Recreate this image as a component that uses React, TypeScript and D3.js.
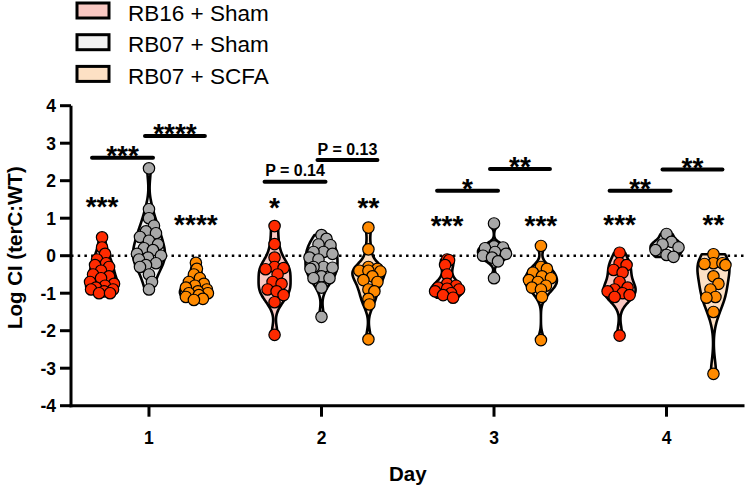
import React from "react";
import * as d3 from "d3";

// ---------- data ----------
const days = [1, 2, 3, 4];
const groupNames = ["RB16 + Sham", "RB07 + Sham", "RB07 + SCFA"];
const yTicks = [-4, -3, -2, -1, 0, 1, 2, 3, 4];

const rb16Sham = [
  [0.49, 0.22, 0.05, -0.1, -0.2, -0.25, -0.3, -0.4, -0.5, -0.55, -0.6, -0.7, -0.75, -0.8, -0.85, -0.9, -0.9, -0.95, -1.0, -1.0],
  [0.79, 0.31, -0.05, -0.3, -0.33, -0.36, -0.5, -0.7, -0.75, -0.9, -0.95, -1.05, -1.24, -2.11],
  [-0.1, -0.12, -0.25, -0.5, -0.75, -0.8, -0.85, -0.88, -0.9, -0.95, -1.0, -1.05, -1.12],
  [0.08, -0.2, -0.25, -0.38, -0.45, -0.7, -0.85, -0.9, -0.95, -1.0, -1.05, -1.1, -2.13],
];
const rb07Sham = [
  [2.33, 1.24, 1.0, 0.8, 0.65, 0.6, 0.5, 0.4, 0.3, 0.2, 0.15, 0.05, 0.0, -0.05, -0.1, -0.2, -0.25, -0.3, -0.5, -0.7, -0.9],
  [0.55, 0.45, 0.3, 0.28, 0.1, 0.1, 0.05, -0.05, -0.1, -0.3, -0.3, -0.32, -0.35, -0.55, -0.6, -0.6, -0.85, -1.63],
  [0.86, 0.25, 0.22, 0.2, 0.1, 0.05, 0.0, -0.05, -0.15, -0.6],
  [0.58, 0.37, 0.3, 0.22, 0.15, 0.02, -0.03],
];
const rb07Scfa = [
  [-0.19, -0.35, -0.5, -0.6, -0.7, -0.75, -0.8, -0.85, -0.9, -0.95, -1.0, -1.0, -1.05, -1.1, -1.15, -1.18],
  [0.75, 0.17, -0.3, -0.35, -0.4, -0.4, -0.42, -0.55, -0.65, -0.7, -0.9, -0.95, -1.15, -1.3, -2.23],
  [0.26, -0.3, -0.35, -0.45, -0.55, -0.6, -0.65, -0.7, -0.8, -0.85, -0.9, -1.1, -2.25],
  [0.04, -0.2, -0.2, -0.22, -0.25, -0.55, -0.75, -0.9, -1.1, -1.12, -1.5, -3.15],
];

// significance vs WT, above RB16 + Sham and RB07 + SCFA
const wtStars = [["***", "****"], ["*", "**"], ["***", "***"], ["***", "**"]];
const wtStarLevels = [[1.49, 1.0], [1.46, 1.46], [0.98, 0.98], [1.0, 1.0]];

// pairwise comparisons: [RB16 vs RB07 Sham, RB07 Sham vs RB07 SCFA]
const pairLabels = [["***", "****"], ["P = 0.14", "P = 0.13"], ["*", "**"], ["**", "**"]];
const pairLevels = [[2.61, 3.19], [1.97, 2.55], [1.73, 2.31], [1.73, 2.3]];

// ---------- style ----------
const FONT = "'Liberation Sans', Arial, Helvetica, sans-serif";
const pointColors = ["#ff2a00", "#a8a8a8", "#ff8a00"];
const violinFills = ["#f9c8c2", "#f2f2f2", "#fde0c4"];
const groupOffset = 0.272;
const W = 748, H = 489;
const MAXW = 16;

const x = d3.scaleLinear().domain([0.548, 4.452]).range([71, 744.5]);
const y = d3.scaleLinear().domain([-4, 4]).range([405.7, 105.7]);

function bandwidth(vals: number[]) {
  const n = vals.length;
  const sd = d3.deviation(vals) || 0.3;
  const s = vals.slice().sort(d3.ascending);
  const iqr = (d3.quantile(s, 0.75) as number) - (d3.quantile(s, 0.25) as number);
  const m = Math.min(sd, iqr > 0 ? iqr / 1.34 : sd);
  return 0.9 * m * Math.pow(n, -0.2);
}

function violinModel(vals: number[]) {
  const lo = d3.min(vals) as number;
  const hi = d3.max(vals) as number;
  const bw = bandwidth(vals);
  const raw = (g: number) => d3.sum(vals, (v) => Math.exp(-0.5 * ((g - v) / bw) ** 2));
  const steps = 80;
  const grid = d3.range(steps + 1).map((i) => lo + ((hi - lo) * i) / steps);
  const dens = grid.map(raw);
  const maxD = d3.max(dens) as number;
  const width = (g: number) => (raw(g) / maxD) * MAXW;
  return { grid, width };
}

function violinPath(vals: number[], cx: number) {
  const m = violinModel(vals);
  const pts = m.grid.map((g) => ({ v: g, w: m.width(g) }));
  const area = d3
    .area<{ v: number; w: number }>()
    .y((d) => y(d.v))
    .x0((d) => cx - d.w)
    .x1((d) => cx + d.w)
    .curve(d3.curveCatmullRom);
  return area(pts) as string;
}

function swarm(vals: number[], cx: number) {
  const m = violinModel(vals);
  const minDist = 9;
  const sorted = vals.map((v, i) => ({ v, i })).sort((a, b) => b.v - a.v);
  const placed: { px: number; py: number }[] = [];
  for (const p of sorted) {
    const py = y(p.v);
    const lim = Math.max(0, Math.floor(m.width(p.v) - 3.5));
    let best = 0;
    let bestScore = Infinity;
    const cands = [0];
    for (let k = 1; k <= lim; k += 1) cands.push(k, -k);
    for (const c of cands) {
      const px = cx + c;
      let overlap = 0;
      for (const q of placed) {
        const dd = Math.hypot(q.px - px, q.py - py);
        if (dd < minDist) overlap += minDist - dd;
      }
      const score = overlap * 10 + Math.abs(c) * 0.2;
      if (overlap === 0) {
        best = c;
        break;
      }
      if (score < bestScore) {
        bestScore = score;
        best = c;
      }
    }
    placed.push({ px: cx + best, py });
  }
  return placed;
}

const seriesByGroup = [rb16Sham, rb07Sham, rb07Scfa];

function starBaseline(centerY: number, size: number) {
  return centerY + size * 0.56;
}

export default function App() {
  const starSize = 28;
  return (
    <svg
      width={W}
      height={H}
      style={{ position: "absolute", left: 0, top: 0, background: "#fff" }}
      fontFamily={FONT}
    >
      {/* legend */}
      {groupNames.map((name, gi) => (
        <g key={name}>
          <rect
            x={77}
            y={3 + gi * 31.7}
            width={32}
            height={15}
            fill={violinFills[gi]}
            stroke="#000"
            strokeWidth={3}
          />
          <text x={128} y={20.6 + gi * 31.7} fontSize={22.5} fill="#000">
            {name}
          </text>
        </g>
      ))}

      {/* zero reference line */}
      <line
        x1={x(0.548)}
        x2={x(4.452)}
        y1={y(0)}
        y2={y(0)}
        stroke="#000"
        strokeWidth={2.5}
        strokeDasharray="2.5 4.2"
      />

      {/* violins */}
      {days.map((day, di) =>
        seriesByGroup.map((series, gi) => {
          const cx = x(day + (gi - 1) * groupOffset);
          return (
            <path
              key={`v${di}-${gi}`}
              d={violinPath(series[di], cx)}
              fill={violinFills[gi]}
              stroke="#000"
              strokeWidth={2.6}
              strokeLinejoin="round"
            />
          );
        })
      )}

      {/* points */}
      {days.map((day, di) =>
        seriesByGroup.map((series, gi) => {
          const cx = x(day + (gi - 1) * groupOffset);
          return swarm(series[di], cx).map((p, pi) => (
            <circle
              key={`p${di}-${gi}-${pi}`}
              cx={p.px}
              cy={p.py}
              r={5.7}
              fill={pointColors[gi]}
              stroke="#000"
              strokeWidth={1.2}
            />
          ));
        })
      )}

      {/* stars vs WT */}
      {days.map((day, di) =>
        [0, 2].map((gi, k) => (
          <text
            key={`s${di}-${gi}`}
            x={x(day + (gi - 1) * groupOffset)}
            y={starBaseline(y(wtStarLevels[di][k]), starSize)}
            fontSize={starSize}
            fontWeight="bold"
            textAnchor="middle"
          >
            {wtStars[di][k]}
          </text>
        ))
      )}

      {/* pairwise brackets */}
      {days.map((day, di) =>
        [0, 1].map((k) => {
          const xa = k === 0 ? x(day - groupOffset) - 10 : x(day) - 4;
          const xb = k === 0 ? x(day) + 4 : x(day + groupOffset) + 9;
          const ly = y(pairLevels[di][k]);
          const label = pairLabels[di][k];
          const isP = label.startsWith("P");
          return (
            <g key={`b${di}-${k}`}>
              <line
                x1={xa}
                x2={xb}
                y1={ly}
                y2={ly}
                stroke="#000"
                strokeWidth={4}
                strokeLinecap="round"
              />
              <text
                x={(xa + xb) / 2}
                y={isP ? ly - 5.5 : starBaseline(ly - 8.5, starSize)}
                fontSize={isP ? 16 : starSize}
                fontWeight="bold"
                textAnchor="middle"
              >
                {label}
              </text>
            </g>
          );
        })
      )}

      {/* y axis */}
      <line x1={71} x2={71} y1={y(4)} y2={y(-4) + 1.5} stroke="#000" strokeWidth={3} />
      {yTicks.map((t) => (
        <g key={`yt${t}`}>
          <line x1={60} x2={71} y1={y(t)} y2={y(t)} stroke="#000" strokeWidth={3} />
          <text
            x={56}
            y={y(t) + 6.3}
            fontSize={17.5}
            fontWeight="bold"
            textAnchor="end"
          >
            {t}
          </text>
        </g>
      ))}
      <text
        transform={`translate(22, ${y(0) - 8}) rotate(-90)`}
        fontSize={20.5}
        fontWeight="bold"
        textAnchor="middle"
      >
        Log CI (terC:WT)
      </text>

      {/* x axis */}
      <line x1={69.5} x2={x(4.452)} y1={y(-4)} y2={y(-4)} stroke="#000" strokeWidth={3} />
      {days.map((d) => (
        <g key={`xt${d}`}>
          <line x1={x(d)} x2={x(d)} y1={y(-4)} y2={y(-4) + 11} stroke="#000" strokeWidth={3} />
          <text x={x(d)} y={y(-4) + 38} fontSize={17.5} fontWeight="bold" textAnchor="middle">
            {d}
          </text>
        </g>
      ))}
      <text x={(x(0.548) + x(4.452)) / 2} y={481} fontSize={20.5} fontWeight="bold" textAnchor="middle">
        Day
      </text>
    </svg>
  );
}
